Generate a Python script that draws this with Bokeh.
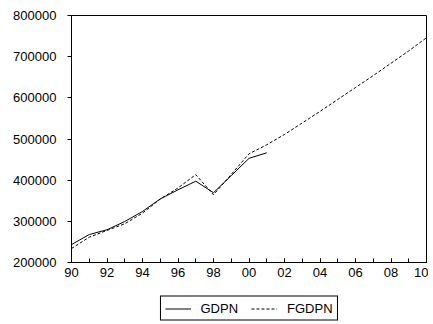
from bokeh.plotting import figure
from bokeh.layouts import column
from bokeh.models import FixedTicker, Legend, LegendItem, Range1d
from bokeh.embed import file_html
from bokeh.resources import INLINE

years_gdpn = list(range(1990, 2002))
gdpn = [243500, 268000, 279500, 299500, 324000, 354500, 376500, 397500,
        369500, 411000, 453000, 466500]

years_fgdpn = list(range(1990, 2011))
fgdpn = [234000, 261500, 278000, 294000, 320000, 354000, 381000, 413500,
         364500, 414000, 464000, 486000, 511000, 539000, 567000, 596000,
         625000, 654000, 684000, 714000, 746000]

x_tick_years = list(range(1990, 2011, 2))
x_tick_labels = ["90", "92", "94", "96", "98", "00", "02", "04", "06", "08", "10"]
y_ticks = [200000, 300000, 400000, 500000, 600000, 700000, 800000]
series_names = ["GDPN", "FGDPN"]

FONT = "Liberation Sans"

p = figure(width=428, height=284, output_backend="svg",
           toolbar_location=None, x_range=Range1d(1990, 2010),
           y_range=Range1d(200000, 800000),
           min_border_left=71, min_border_right=2, min_border_top=15,
           min_border_bottom=22)
p.background_fill_color = "white"
p.border_fill_color = "white"
p.outline_line_color = "black"
p.outline_line_alpha = 1
p.grid.visible = False

p.line(years_gdpn, gdpn, line_color="black", line_width=1)
p.line(years_fgdpn, fgdpn, line_color="black", line_width=1, line_dash="3 2")

xa = p.xaxis[0]
xa.ticker = FixedTicker(ticks=x_tick_years, minor_ticks=list(range(1990, 2011)))
xa.major_label_overrides = {y: l for y, l in zip(x_tick_years, x_tick_labels)}
xa.major_tick_in = 4
xa.major_tick_out = 0
xa.minor_tick_in = 4
xa.minor_tick_out = 0
xa.major_label_standoff = 5
xa.major_label_text_font = FONT
xa.major_label_text_font_size = "13px"
xa.major_label_text_color = "black"
xa.axis_line_color = "black"

ya = p.yaxis[0]
ya.ticker = FixedTicker(ticks=y_ticks)
ya.major_tick_in = 0
ya.major_tick_out = 4
ya.minor_tick_line_color = None
ya.major_label_standoff = 11
ya.major_label_text_font = FONT
ya.major_label_text_font_size = "13px"
ya.major_label_text_color = "black"
ya.formatter.use_scientific = False
ya.axis_line_color = "black"

# legend strip drawn in its own small figure below the chart
lg = figure(width=428, height=38, output_backend="svg", toolbar_location=None,
            x_range=Range1d(0, 1), y_range=Range1d(0, 1),
            x_axis_type=None, y_axis_type=None,
            min_border_left=71, min_border_right=2, min_border_top=10,
            min_border_bottom=0)
lg.outline_line_color = None
lg.background_fill_color = "white"
lg.border_fill_color = "white"
# legend-sample renderers kept outside the visible range
d1 = lg.line(x=[5, 6], y=[5, 6], line_color="black", line_width=1)
d2 = lg.line(x=[5, 6], y=[5, 6], line_color="black", line_width=1, line_dash="3 2")

legend = Legend(items=[LegendItem(label=series_names[0], renderers=[d1]),
                       LegendItem(label=series_names[1], renderers=[d2])],
                orientation="horizontal", location="center",
                padding=4, spacing=13, glyph_width=26, glyph_height=12,
                label_height=12, label_standoff=10, margin=0,
                label_text_font=FONT, label_text_font_size="13px",
                label_text_color="black",
                border_line_color="black", border_line_width=1,
                border_line_alpha=1,
                background_fill_alpha=1)
lg.add_layout(legend, "center")

layout = column(p, lg, spacing=0)

open("out.html", "w").write(file_html(layout, INLINE))
